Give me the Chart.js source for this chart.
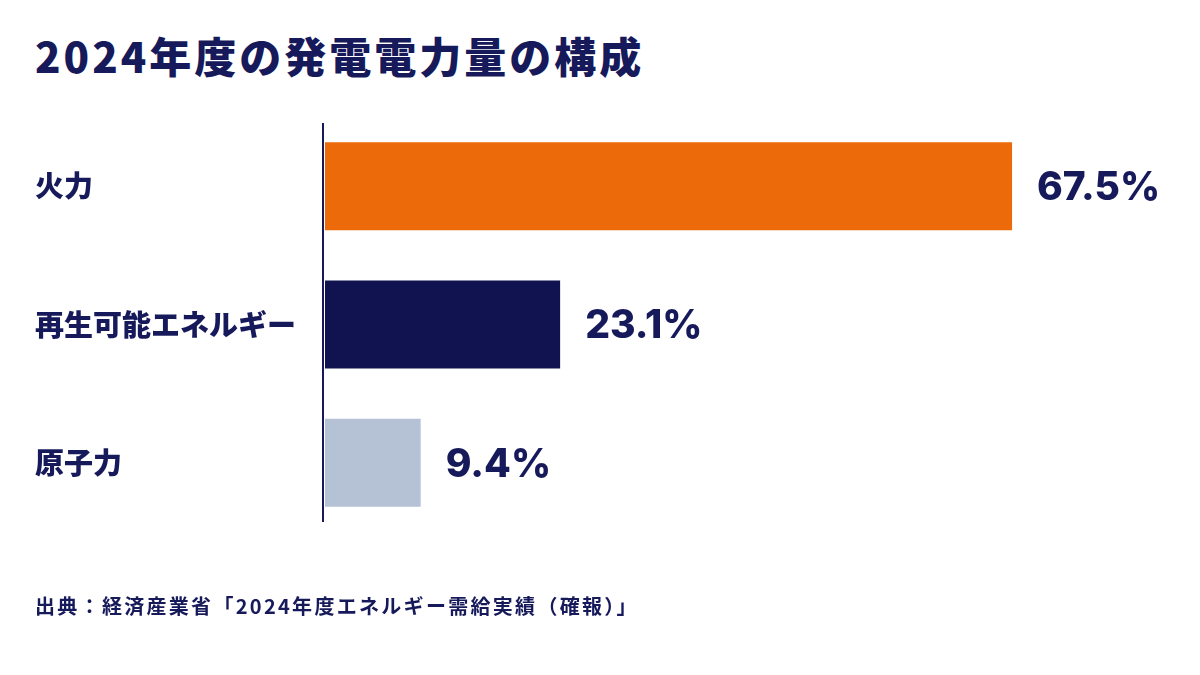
<!DOCTYPE html>
<html lang="ja">
<head>
<meta charset="utf-8">
<script src="https://cdn.jsdelivr.net/npm/chart.js@4/dist/chart.umd.min.js"></script>
<style>
  html, body { margin: 0; padding: 0; background: #ffffff; }
  #wrap { position: relative; width: 1200px; height: 675px; overflow: hidden; }
  #title {
    position: absolute; left: 35px; top: 31px; margin: 0;
    font-family: "Noto Sans CJK JP", sans-serif; font-weight: 900;
    font-size: 42px; line-height: 48px; letter-spacing: 3px; color: #16195A;
  }
  #source {
    position: absolute; left: 35px; top: 592px; margin: 0;
    font-family: "Noto Sans CJK JP", sans-serif; font-weight: 700;
    font-size: 20px; line-height: 28px; letter-spacing: 2.3px; color: #16195A;
  }
  canvas { position: absolute; left: 0; top: 0; }
</style>
</head>
<body>
<div id="wrap">
  <h1 id="title">2024年度の発電電力量の構成</h1>
  <canvas id="c" width="1200" height="675"></canvas>
  <p id="source">出典：経済産業省「2024年度エネルギー需給実績（確報）」</p>
</div>
<script>
const categories = ["火力", "再生可能エネルギー", "原子力"];
const shares = [67.5, 23.1, 9.4];
const valueLabels = ["67.5%", "23.1%", "9.4%"];
const barColors = ["#EC6A0A", "#10134F", "#B5C2D6"];

const NAVY = "#16195A";

const valueLabelPlugin = {
  id: "valueLabels",
  afterDatasetsDraw(chart) {
    const ctx = chart.ctx;
    const meta = chart.getDatasetMeta(0);
    ctx.save();
    ctx.fillStyle = NAVY;
    ctx.font = "800 39px Inter, 'Noto Sans', sans-serif";
    ctx.textAlign = "left";
    ctx.textBaseline = "middle";
    meta.data.forEach((bar, i) => {
      ctx.fillText(valueLabels[i], bar.x + 25, bar.y + 2);
    });
    ctx.restore();
  }
};

const axisLinePlugin = {
  id: "axisLine",
  afterDatasetsDraw(chart) {
    const { ctx, chartArea } = chart;
    const x = chart.scales.x.getPixelForValue(0) - 2;
    ctx.save();
    ctx.strokeStyle = NAVY;
    ctx.lineWidth = 2;
    ctx.beginPath();
    ctx.moveTo(x, chartArea.top + 6);
    ctx.lineTo(x, chartArea.bottom - 10);
    ctx.stroke();
    ctx.restore();
  }
};

new Chart(document.getElementById("c"), {
  type: "bar",
  data: {
    labels: categories,
    datasets: [{
      data: shares,
      backgroundColor: barColors,
      borderWidth: 0,
      barPercentage: 0.636,
      categoryPercentage: 1.0
    }]
  },
  options: {
    indexAxis: "y",
    responsive: false,
    animation: false,
    devicePixelRatio: 1,
    layout: { padding: { left: 35, top: 117, right: 20, bottom: 143 } },
    plugins: {
      legend: { display: false },
      tooltip: { enabled: false },
      title: { display: false }
    },
    scales: {
      x: {
        display: false,
        min: 0,
        max: 84
      },
      y: {
        grid: { display: false, drawTicks: false },
        border: { display: false },
        ticks: {
          crossAlign: "far",
          color: NAVY,
          padding: 0,
          font: { family: "'Noto Sans CJK JP', sans-serif", size: 29, weight: "900" }
        },
        afterFit(scale) { scale.width = 290; }
      }
    }
  },
  plugins: [valueLabelPlugin, axisLinePlugin]
});
</script>
</body>
</html>
